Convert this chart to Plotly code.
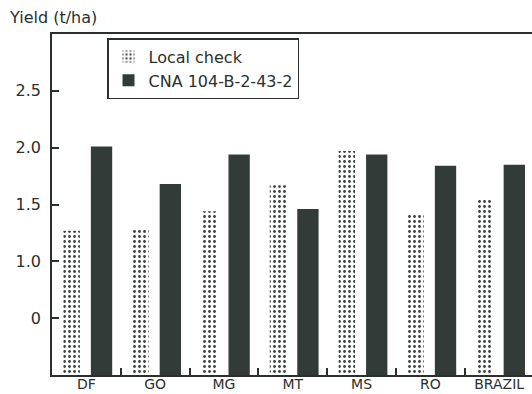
import plotly.graph_objects as go

categories = ["DF", "GO", "MG", "MT", "MS", "RO", "BRAZIL"]
local_check = [1.27, 1.29, 1.44, 1.67, 1.97, 1.41, 1.55]
cna = [2.01, 1.68, 1.94, 1.46, 1.94, 1.84, 1.85]
ytick_vals = [0.5, 1.0, 1.5, 2.0, 2.5]
ytick_text = ["0", "1.0", "1.5", "2.0", "2.5"]

FONT = "'DejaVu Sans', sans-serif"
INK = "#2b2f2d"
DARK = "#333b38"

xs = list(range(len(categories)))

fig = go.Figure()
fig.add_trace(go.Bar(
    x=xs, y=local_check, name="Local check",
    width=0.24, offset=-0.335,
    marker=dict(color="white", line=dict(width=0),
                pattern=dict(shape=".", fgcolor="#3a3f3c", bgcolor="white",
                             size=5, solidity=0.25)),
))
fig.add_trace(go.Bar(
    x=xs, y=cna, name="CNA 104-B-2-43-2",
    width=0.31, offset=0.065,
    marker=dict(color=DARK, line=dict(width=0)),
))

fig.update_layout(
    template="none",
    width=532, height=394,
    margin=dict(l=52, r=0, t=34, b=19, pad=0),
    paper_bgcolor="white", plot_bgcolor="white",
    font=dict(family=FONT, color=INK, size=16),
    barmode="overlay",
    showlegend=True,
    legend=dict(x=0.1146, y=0.988, xanchor="left", yanchor="top",
                bordercolor=INK, borderwidth=1.5, bgcolor="white",
                font=dict(size=16, family=FONT, color=INK),
                itemsizing="constant", tracegroupgap=0,
                traceorder="normal"),
    xaxis=dict(range=[-0.5, 6.477], tickmode="array", tickvals=xs,
               ticktext=categories, ticks="", showgrid=False, zeroline=False,
               showline=True, linecolor=INK, linewidth=1.5, mirror=True,
               automargin=False, ticklabelstandoff=-5,
               tickfont=dict(size=14, family=FONT, color=INK),
               minor=dict(tickvals=[i + 0.5 for i in xs[:-1]], ticks="inside",
                          ticklen=7, tickcolor=INK, tickwidth=1.5, showgrid=False)),
    yaxis=dict(range=[0.0, 3.0], tickmode="array", tickvals=ytick_vals,
               ticktext=ytick_text, ticks="inside", ticklen=7, tickcolor=INK,
               tickwidth=1.5, showgrid=False, zeroline=False,
               showline=True, linecolor=INK, linewidth=1.5,
               automargin=False, ticklabelstandoff=6,
               tickfont=dict(size=16, family=FONT, color=INK)),
    annotations=[dict(text="Yield (t/ha)", xref="paper", yref="paper",
                      x=-0.094, y=1.047, xanchor="left", yanchor="middle",
                      showarrow=False, font=dict(size=16, family=FONT, color=INK))],
)

fig.write_html("out.html", config={"displayModeBar": False},
               post_script="document.body.style.margin='0';document.body.style.padding='0';")
